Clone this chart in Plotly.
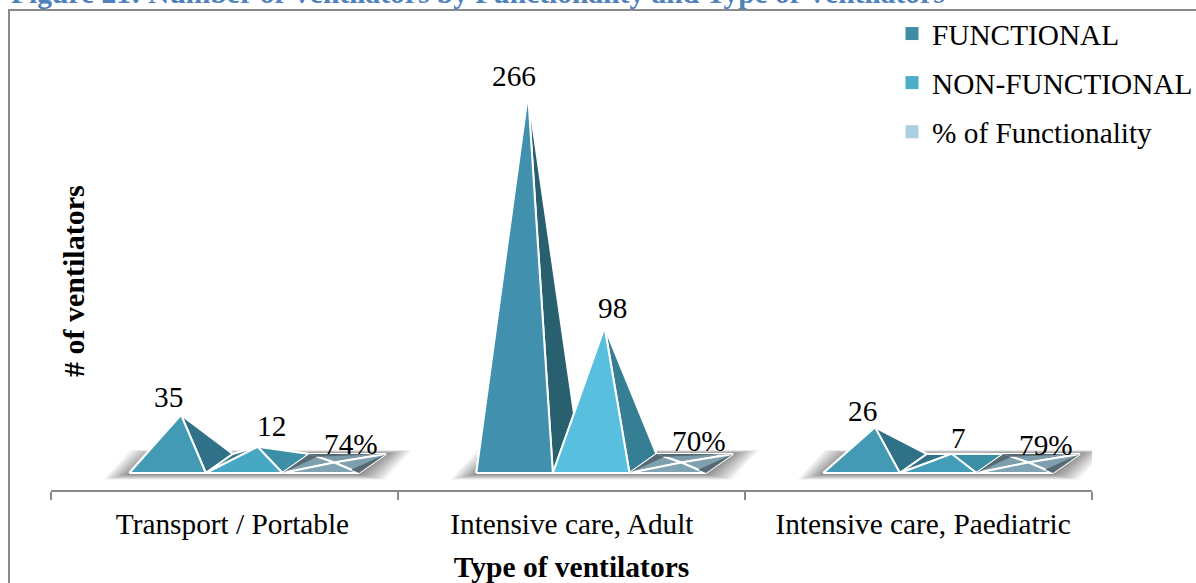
import plotly.graph_objects as go

# Ventilator counts per type
categories = ["Transport / Portable", "Intensive care, Adult", "Intensive care, Paediatric"]
series_names = ["FUNCTIONAL", "NON-FUNCTIONAL", "% of Functionality"]
functional = [35, 266, 26]
non_functional = [12, 98, 7]
pct_functionality = [74, 70, 79]

FIG_W, FIG_H = 1196, 583
M_L, M_R, M_T, M_B = 51, 104, 25, 93
SERIF = "Liberation Serif"
TEXT_SIZE = 29.3

# Axis scales
PX_PER_CAT = (FIG_W - M_L - M_R) / 3
PX_PER_VAL = 1.39
Y_MIN = -17 / PX_PER_VAL
Y_MAX = Y_MIN + (FIG_H - M_T - M_B) / PX_PER_VAL

# Category label anchors sit slightly off the group centres
LABEL_TICKS = [0.023, 1.001, 2.013]

# Pyramid geometry in axis units
BAR_W = 76.6 / PX_PER_CAT
GROUP_START = -0.2745
DEPTH_X = 27 / PX_PER_CAT
DEPTH_Y = 19 / PX_PER_VAL

# Face colours per series, per category: front, right
FRONT = [["#429ab4", "#4190ad", "#429ab4"],
         ["#47a8c4", "#58bfdf", "#439cb8"],
         ["#7fa3b3", "#7fa3b3", "#7fa3b3"]]
RIGHT = [["#2f7186", "#286070", "#2f7186"],
         ["#3d8fa6", "#357e93", "#3a8ea6"],
         ["#7e9fae", "#7e9fae", "#7e9fae"]]
LEFT = ["#2f7186", "#2f7186", "#7e9fae"]
BACK = ["#2f7186", "#3a8ea6", "#7b9ba9"]
BEVEL = "#566a74"
SWATCH = ["#3f8ca6", "#4aaec9", "#a9cfdd"]

# Label nudges in pixels relative to each pyramid's apex
LABEL_NUDGE = [[(-13, 18), (14, 21), (17, 18)],
               [(-14, 18), (8, 19), (18, 22)],
               [(-13, 16), (7, 16), (18, 17)]]


def px_x(px):
    return (px - M_L) / (FIG_W - M_L - M_R)


def px_y(px):
    return 1 - (px - M_T) / (FIG_H - M_T - M_B)


def toward(p, q, share):
    return p[0] + (q[0] - p[0]) * share, p[1] + (q[1] - p[1]) * share


fig = go.Figure()


def polygon(points, fill, line=None):
    xs = [p[0] for p in points]
    ys = [p[1] for p in points]
    fig.add_trace(go.Scatter(
        x=xs + xs[:1], y=ys + ys[:1], mode="lines", fill="toself", fillcolor=fill,
        line=dict(color=line or "rgba(0,0,0,0)", width=2 if line else 0),
        showlegend=False, hoverinfo="skip",
    ))


# Soft floor shadow under each category group
SHADOW_STEPS = 24
for c in range(3):
    left = c + GROUP_START
    right = left + 3 * BAR_W
    for step in range(SHADOW_STEPS):
        t = (SHADOW_STEPS - 1 - step) / (SHADOW_STEPS - 1)
        pad = 26 * t ** 1.3
        dx, dy = pad / PX_PER_CAT, (pad * 0.22 + 1) / PX_PER_VAL
        polygon([(left - dx, -dy), (right + dx, -dy),
                 (right + DEPTH_X + dx, DEPTH_Y + dy * 0.6),
                 (left + DEPTH_X - dx, DEPTH_Y + dy * 0.6)],
                "rgba(70,70,70,0.04)")

heights = [functional, non_functional, [p / 100 for p in pct_functionality]]
labels = [[str(v) for v in functional],
          [str(v) for v in non_functional],
          [f"{p}%" for p in pct_functionality]]

annotations = []
for c in range(3):
    for s in range(3):
        x0 = c + GROUP_START + s * BAR_W
        fl, fr = (x0, 0), (x0 + BAR_W, 0)
        bl, br = (x0 + DEPTH_X, DEPTH_Y), (x0 + BAR_W + DEPTH_X, DEPTH_Y)
        apex = (x0 + (BAR_W + DEPTH_X) / 2, heights[s][c] + DEPTH_Y / 2)
        polygon([bl, br, apex], BACK[s], "white")
        polygon([fl, bl, apex], LEFT[s], "white")
        polygon([fr, br, apex], RIGHT[s][c], "white")
        polygon([fl, fr, apex], FRONT[s][c], "white")
        if s == 2:
            # Flat pyramids show darker slivers along the rim
            polygon([fl, bl, toward(bl, apex, 0.32)], BEVEL)
            polygon([br, fr, toward(fr, apex, 0.32)], BEVEL)
            polygon([bl, br, toward(bl, apex, 0.32)], BEVEL)
        nx, ny = LABEL_NUDGE[c][s]
        annotations.append(dict(
            x=apex[0], y=apex[1], xref="x", yref="y", text=labels[s][c], showarrow=False,
            xshift=nx, yshift=ny, font=dict(family=SERIF, size=TEXT_SIZE, color="#000000"),
        ))

# Legend swatches
for name, colour in zip(series_names, SWATCH):
    fig.add_trace(go.Scatter(
        x=[None], y=[None], mode="markers", name=name, legendgroup=name,
        marker=dict(symbol="square", size=13, color=colour),
    ))

annotations += [
    dict(xref="paper", yref="paper", x=px_x(9), y=px_y(11.5), xanchor="left", yanchor="bottom",
         text="<b>Figure 21: Number of Ventilators by Functionality and Type of Ventilators</b>",
         showarrow=False, font=dict(family=SERIF, size=29.5, color="#4f81bd")),
    dict(xref="paper", yref="paper", x=px_x(73), y=px_y(281), xanchor="center", yanchor="middle",
         textangle=-90, text="<b># of ventilators</b>", showarrow=False,
         font=dict(family=SERIF, size=30, color="#000000")),
]

fig.update_layout(
    width=FIG_W, height=FIG_H,
    margin=dict(l=M_L, r=M_R, t=M_T, b=M_B, pad=0, autoexpand=False),
    paper_bgcolor="white", plot_bgcolor="white",
    annotations=annotations,
    shapes=[dict(type="rect", xref="paper", yref="paper", x0=px_x(9), x1=px_x(1240),
                 y0=px_y(640), y1=px_y(10), line=dict(color="#8a8a8a", width=2))],
    legend=dict(x=px_x(892), y=px_y(8), xanchor="left", yanchor="top",
                bgcolor="rgba(0,0,0,0)", traceorder="grouped", tracegroupgap=8,
                font=dict(family=SERIF, size=TEXT_SIZE, color="#000000")),
    xaxis=dict(
        range=[-0.5, 2.5], tickmode="array", tickvals=LABEL_TICKS, ticktext=categories,
        ticks="", showgrid=False, zeroline=False, showline=True, linecolor="#8a8a8a", linewidth=2,
        ticklabelstandoff=7,
        tickfont=dict(family=SERIF, size=TEXT_SIZE, color="#000000"),
        minor=dict(tickmode="array", tickvals=[-0.5, 0.5, 1.5, 2.5], ticks="outside",
                   ticklen=8, tickcolor="#8a8a8a", tickwidth=2, showgrid=False),
        title=dict(text="<b>Type of ventilators</b>", standoff=17,
                   font=dict(family=SERIF, size=29.5, color="#000000")),
    ),
    yaxis=dict(range=[Y_MIN, Y_MAX], visible=False),
)

fig.write_html("out.html")
